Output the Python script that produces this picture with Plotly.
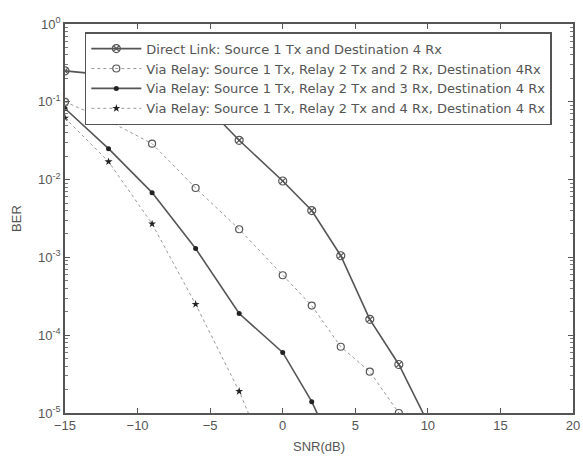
import plotly.graph_objects as go

direct_snr = [-15, -12, -9, -6, -3, 0, 2, 4, 6, 8, 10]
direct_ber = [0.25, 0.22, 0.18, 0.12, 0.032, 0.0096, 0.004, 0.00105, 1.6e-4, 4.2e-5, 7.5e-6]

relay2_snr = [-15, -12, -9, -6, -3, 0, 2, 4, 6, 8]
relay2_ber = [0.1, 0.057, 0.029, 0.0078, 0.0023, 5.9e-4, 2.4e-4, 7.1e-5, 3.4e-5, 1.0e-5]

relay3_snr = [-15, -12, -9, -6, -3, 0, 2, 4]
relay3_ber = [0.082, 0.025, 0.0068, 0.0013, 1.9e-4, 6.0e-5, 1.4e-5, 2.2e-6]

relay4_snr = [-15, -12, -9, -6, -3, 0]
relay4_ber = [0.062, 0.017, 0.0027, 2.5e-4, 1.9e-5, 9e-7]

names = [
    "Direct Link: Source 1 Tx and Destination 4 Rx",
    "Via Relay: Source 1 Tx, Relay 2 Tx and 2 Rx, Destination 4Rx",
    "Via Relay: Source 1 Tx, Relay 2 Tx and 3 Rx, Destination 4 Rx",
    "Via Relay: Source 1 Tx, Relay 2 Tx and 4 Rx, Destination 4 Rx",
]

ytick_vals = [1, 0.1, 0.01, 0.001, 1e-4, 1e-5]
ytick_text = ["10<sup>0</sup>", "10<sup>-1</sup>", "10<sup>-2</sup>", "10<sup>-3</sup>", "10<sup>-4</sup>", "10<sup>-5</sup>"]
xtick_vals = [-15, -10, -5, 0, 5, 10, 15, 20]

gray = "#555555"
fnt = "Liberation Sans, Arial"
fig = go.Figure()
fig.add_trace(go.Scatter(x=direct_snr, y=direct_ber, name=names[0], mode="lines+markers",
                         line=dict(color=gray, width=1.6),
                         marker=dict(symbol="circle-x-open", size=8, color=gray, line=dict(width=1.2))))
fig.add_trace(go.Scatter(x=relay2_snr, y=relay2_ber, name=names[1], mode="lines+markers",
                         line=dict(color="#999999", width=1, dash="dot"),
                         marker=dict(symbol="circle-open", size=7, color=gray, line=dict(width=1.2))))
fig.add_trace(go.Scatter(x=relay3_snr, y=relay3_ber, name=names[2], mode="lines+markers",
                         line=dict(color=gray, width=1.6),
                         marker=dict(symbol="circle", size=5, color="#222222")))
fig.add_trace(go.Scatter(x=relay4_snr, y=relay4_ber, name=names[3], mode="lines+markers",
                         line=dict(color="#999999", width=1, dash="dot"),
                         marker=dict(symbol="star", size=6, color="#222222")))

axis_common = dict(showline=True, linecolor=gray, linewidth=1.5, mirror="ticks",
                   ticks="inside", ticklen=5, tickcolor=gray, showgrid=False, zeroline=False,
                   automargin=False,
                   tickfont=dict(family=fnt, size=13, color="#555555"))

fig.update_xaxes(range=[-15, 20], tickvals=xtick_vals,
                 title=dict(text="SNR(dB)", standoff=10,
                            font=dict(family=fnt, size=13, color="#555555")),
                 **axis_common)
fig.update_yaxes(type="log", range=[-5, 0], tickvals=ytick_vals, ticktext=ytick_text,
                 minor=dict(ticks="inside", ticklen=3, tickcolor="#777777", dtick="D1", showgrid=False),
                 title=dict(text="BER", standoff=14,
                            font=dict(family=fnt, size=13, color="#555555")),
                 **axis_common)

fig.update_layout(
    width=583, height=457,
    margin=dict(l=65, r=10, t=24, b=44),
    plot_bgcolor="white", paper_bgcolor="white",
    font=dict(family=fnt, color="#555555"),
    legend=dict(x=0.039, y=0.979, xanchor="left", yanchor="top",
                bgcolor="white", bordercolor=gray, borderwidth=1.5,
                font=dict(family="DejaVu Sans", size=13, color="#555555"),
                tracegroupgap=0, itemwidth=50),
)

fig.write_html("out.html", config={"displayModeBar": False},
               post_script="document.body.style.margin='0';")
